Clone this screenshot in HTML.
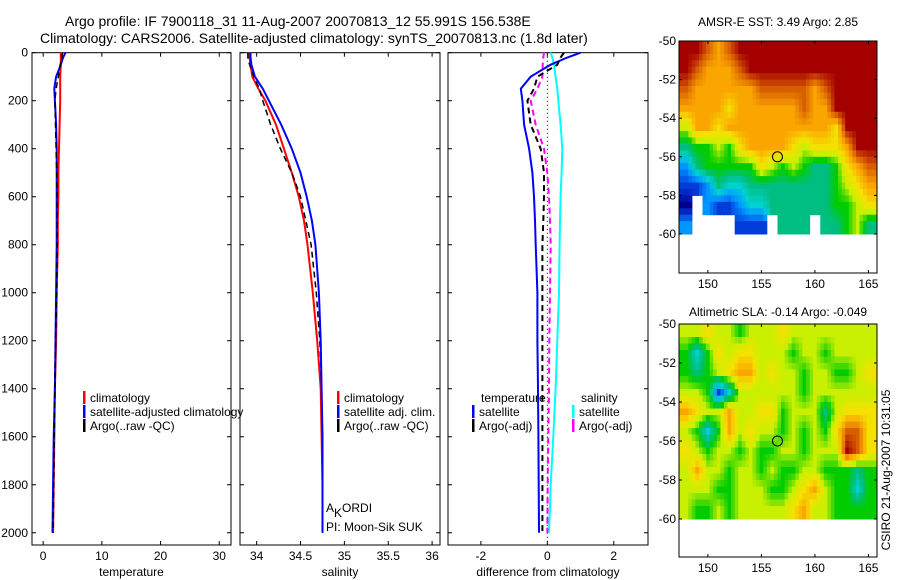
<!DOCTYPE html>
<html><head><meta charset="utf-8"><style>
body{margin:0;background:#fff;}
svg{display:block;font-family:"Liberation Sans",sans-serif;}
text{font-size:12px;fill:#000;}
</style></head><body>
<svg id="c" width="900" height="580" viewBox="0 0 900 580">
<text x="65" y="26" style="font-size:14px">Argo profile: IF 7900118_31 11-Aug-2007 20070813_12 55.991S 156.538E</text>
<text x="40" y="43" style="font-size:14px">Climatology: CARS2006. Satellite-adjusted climatology: synTS_20070813.nc (1.8d later)</text>
</svg>
<script>
const depths=[0,20,50,100,150,200,300,400,500,600,700,800,1000,1200,1400,1600,1800,2000];
const climT=[3.0,3.0,3.0,2.9,2.9,2.9,2.8,2.7,2.6,2.6,2.5,2.5,2.3,2.2,2.0,1.9,1.8,1.7];
const satT=[3.8,3.4,3.0,2.2,1.9,2.0,2.2,2.3,2.3,2.3,2.3,2.3,2.2,2.1,2.0,1.8,1.7,1.6];
const argoT=[3.3,3.2,2.9,2.6,2.2,2.0,2.1,2.2,2.3,2.4,2.4,2.4,2.3,2.1,2.0,1.9,1.8,1.7];
const climS=[33.92,33.92,33.93,33.95,34.02,34.10,34.22,34.31,34.40,34.48,34.54,34.58,34.64,34.69,34.73,34.74,34.75,34.75];
const satS=[33.93,33.93,33.94,33.98,34.07,34.14,34.28,34.40,34.50,34.57,34.63,34.67,34.71,34.73,34.74,34.75,34.75,34.75];
const argoS=[33.90,33.90,33.92,33.97,34.03,34.07,34.16,34.27,34.40,34.50,34.56,34.62,34.68,34.72,34.74,34.75,34.75,34.75];
const satTdiff=[1.0,0.6,0.1,-0.5,-0.8,-0.75,-0.7,-0.55,-0.45,-0.4,-0.37,-0.35,-0.3,-0.3,-0.28,-0.27,-0.26,-0.25];
const argoTdiff=[0.5,0.4,0.3,-0.3,-0.4,-0.6,-0.5,-0.2,-0.1,-0.1,-0.12,-0.15,-0.15,-0.15,-0.15,-0.15,-0.15,-0.15];
const satSdiff=[0.1,0.15,0.2,0.25,0.3,0.33,0.4,0.45,0.43,0.4,0.38,0.37,0.35,0.3,0.25,0.18,0.1,0.05];
const argoSdiff=[-0.1,-0.12,-0.14,-0.15,-0.3,-0.5,-0.35,-0.1,0.0,0.05,0.08,0.1,0.08,0.06,0.05,0.03,0.01,0.0];
const depthTicks=[0,200,400,600,800,1000,1200,1400,1600,1800,2000];
const tTicks=[0,10,20,30];
const sTicks=[34,34.5,35,35.5,36];
const dTicks=[-2,0,2];
const mapLonTicks=[150,155,160,165];
const mapLatTicks=[-50,-52,-54,-56,-58,-60];
// SST map colour levels (0..10), rows lat -50..-59, cols lon 147.5..164.5; -1 = missing
const sstGrid=[
[10,10,9,8,9,10,10,10,10,10,10,10,10,10,10,10,10,10],
[10,9,8,8,8,9,10,10,10,10,10,10,10,10,10,10,10,10],
[9,8,8,8,8,8,8,9,9,9,9,9,8,9,10,10,10,10],
[8,8,8,8,7,8,8,8,8,8,8,9,8,8,10,10,10,10],
[6,8,8,7,8,8,8,8,8,8,8,8,8,8,7,10,10,10],
[4,5,5,6,5,7,8,8,8,8,7,6,7,7,7,8,10,10],
[2,4,5,5,5,5,5,7,6,5,6,5,4,4,5,7,8,9],
[1,1,2,4,3,3,4,4,4,4,4,4,4,4,5,6,7,8],
[0,-1,2,1,1,2,3,3,4,4,4,4,4,4,5,5,6,7],
[2,-1,-1,-1,-1,1,1,1,-1,4,4,4,-1,4,4,5,6,4]];
const slaGrid=[
[6,6,7,6,6,5,6,6,6,7,6,6,6,6,6,6,6,6],
[5,3,5,7,6,7,7,6,6,6,5,6,6,5,6,6,6,6],
[5,4,5,6,7,8,8,6,7,6,6,5,6,6,5,5,6,7],
[6,6,5,1,3,6,6,6,6,6,6,5,6,6,6,6,6,6],
[8,7,6,6,8,6,6,7,7,5,6,6,6,4,6,7,7,7],
[6,5,3,5,8,6,7,6,6,5,6,5,6,5,7,9,9,7],
[7,6,5,6,6,5,6,5,5,6,6,5,6,6,6,10,9,7],
[6,8,6,6,5,6,6,5,6,5,5,6,6,5,5,5,4,5],
[6,6,6,5,5,6,6,6,5,5,6,7,8,6,5,5,3,5],
[6,5,5,6,5,6,6,6,6,6,7,8,6,6,5,5,5,5]];
const argoLon=156.5, argoLat=-56;

const svg=document.getElementById('c');
const NS='http://www.w3.org/2000/svg';
function mk(tag,attrs,parent){const e=document.createElementNS(NS,tag);for(const k in attrs)e.setAttribute(k,attrs[k]);(parent||svg).appendChild(e);return e;}
function txt(x,y,s,anchor,parent){const t=mk('text',{x:x,y:y,'text-anchor':anchor||'start'},parent);t.textContent=s;return t;}

const Y0=52.7,Y1=545,DMAX=2051;
function yD(d){return Y0+(d/DMAX)*(Y1-Y0);}
const panels=[
 {name:'temperature',x0:32,x1:231,v0:-1.9,v1:32,ticks:tTicks,label:'temperature'},
 {name:'salinity',x0:240,x1:440,v0:33.81,v1:36.09,ticks:sTicks,label:'salinity'},
 {name:'difference',x0:448,x1:648,v0:-2.99,v1:3.03,ticks:dTicks,label:'difference from climatology'}];
function xf(p){return v=>p.x0+(v-p.v0)/(p.v1-p.v0)*(p.x1-p.x0);}

panels.forEach((p,i)=>{
 const g=mk('g',{});
 
 
 const r=mk('rect',{x:p.x0,y:Y0,width:p.x1-p.x0,height:Y1-Y0,fill:'none',stroke:'#000','stroke-width':1},g);
 
 
 const X=xf(p);
 p.ticks.forEach(t=>{
  const x=X(t);
  mk('line',{x1:x,y1:Y1,x2:x,y2:Y1-4,stroke:'#000'},g);
  mk('line',{x1:x,y1:Y0,x2:x,y2:Y0+4,stroke:'#000'},g);
  const l=txt(x,Y1+15,String(t),'middle',g);
  
  
 });
 depthTicks.forEach(d=>{
  const y=yD(d);
  mk('line',{x1:p.x0,y1:y,x2:p.x0+4,y2:y,stroke:'#000'},g);
  mk('line',{x1:p.x1,y1:y,x2:p.x1-4,y2:y,stroke:'#000'},g);
  if(i===0){const l=txt(p.x0-4,y+4,String(d),'end',g);
   
   }
 });
 const xl=txt((p.x0+p.x1)/2,Y1+31,p.label,'middle',g);
 
 
});

function line(p,vals,color,dash,w,name){
 const X=xf(p);
 const pts=vals.map((v,k)=>X(v).toFixed(1)+','+yD(depths[k]).toFixed(1)).join(' ');
 const e=mk('polyline',{points:pts,fill:'none',stroke:color,'stroke-width':w||2,'stroke-dasharray':dash||'none'});
 
 
}
line(panels[0],climT,'#f00',null,2,'temperature-climatology-line');
line(panels[0],satT,'#00f',null,2,'temperature-satellite-line');
line(panels[0],argoT,'#000','6,4',1.5,'temperature-argo-line');
line(panels[1],climS,'#f00',null,2,'salinity-climatology-line');
line(panels[1],argoS,'#000','6,4',1.5,'salinity-argo-line');
line(panels[1],satS,'#00f',null,2,'salinity-satellite-line');
{const X=xf(panels[2]);const z=mk('line',{x1:X(0),y1:Y0,x2:X(0),y2:Y1,stroke:'#000','stroke-dasharray':'1,3'});
 }
line(panels[2],satSdiff,'#0ff',null,2,'salinity-satellite-diff-line');
line(panels[2],argoSdiff,'#f0f','6,4',2,'salinity-argo-diff-line');
line(panels[2],satTdiff,'#00f',null,2,'temperature-satellite-diff-line');
line(panels[2],argoTdiff,'#000','6,4',2,'temperature-argo-diff-line');

function legend(x,y,color,label,name){
 const g=mk('g',{});
 
 
 mk('rect',{x:x,y:y-11,width:2.5,height:13,fill:color},g);
 txt(x+7,y,label,'start',g);
}
legend(83,402,'#f00','climatology','legend-climatology');
legend(83,416,'#00f','satellite-adjusted climatology','legend-satellite');
legend(83,430,'#000','Argo(..raw -QC)','legend-argo');
legend(337,402,'#f00','climatology','legend-sal-climatology');
legend(337,416,'#00f','satellite adj. clim.','legend-sal-satellite');
legend(337,430,'#000','Argo(..raw -QC)','legend-sal-argo');
{const t=txt(481,402,'temperature');
 const s=txt(581,402,'salinity');}
legend(472,416,'#00f','satellite','legend-temp-satellite');
legend(472,430,'#000','Argo(-adj)','legend-temp-argo');
legend(572,416,'#0ff','satellite','legend-sal-satellite-diff');
legend(572,430,'#f0f','Argo(-adj)','legend-sal-argo-diff');
{const t=mk('text',{x:326,y:512});t.innerHTML='A<tspan dy="5" style="font-size:12px">K</tspan><tspan dy="-5">ORDI</tspan>';
 
 const t2=txt(326,531,'PI: Moon-Sik SUK');}

const pal=[[0,0,140],[0,60,220],[0,150,255],[0,210,210],[0,190,130],[0,205,0],[200,240,0],[245,225,0],[250,165,0],[215,95,0],[165,0,0]];
function col(l){l=Math.max(0,Math.min(10,l));const a=Math.floor(l),b=Math.min(10,a+1),f=l-a;
 const c=pal[a].map((v,k)=>Math.round(v+(pal[b][k]-v)*f));return 'rgb('+c.join(',')+')';}
function sample(grid,r,c){const R=grid.length,C=grid[0].length;
 r=Math.max(0,Math.min(R-1,r));c=Math.max(0,Math.min(C-1,c));
 const r0=Math.floor(r),c0=Math.floor(c),r1=Math.min(R-1,r0+1),c1=Math.min(C-1,c0+1),fr=r-r0,fc=c-c0;
 let s=0,w=0;[[r0,c0,(1-fr)*(1-fc)],[r0,c1,(1-fr)*fc],[r1,c0,fr*(1-fc)],[r1,c1,fr*fc]].forEach(q=>{const v=grid[q[0]][q[1]];if(v>=0&&q[2]>0){s+=v*q[2];w+=q[2];}});
 return w>0?s/w:-1;}

function map(top,bottom,grid,title,titleY,name){
 const L=679,R=877,lon0=147.3,lon1=165.8,latTop=-50,latPx=(top.lat60-top.y)/10;
 const Xl=lon=>L+(lon-lon0)/(lon1-lon0)*(R-L);
 const Yl=lat=>top.y+(latTop-lat)*latPx;
 const g=mk('g',{});
 
 
 const S=3;
 grid.forEach((row,ri)=>row.forEach((v,ci)=>{
  if(v<0)return;
  for(let a=0;a<S;a++)for(let b=0;b<S;b++){
   const lv=sample(grid,ri+(a+0.5)/S-0.5,ci+(b+0.5)/S-0.5);
   const lonA=147.5+ci+b/S,lat=-50-ri-a/S;
   let x0=Xl(lonA),x1=Xl(lonA+1/S);
   if(ci===0&&b===0)x0=L; if(ci===row.length-1&&b===S-1)x1=R;
   const c=mk('rect',{x:x0.toFixed(1),y:Yl(lat).toFixed(1),width:(x1-x0+0.5).toFixed(1),height:(latPx/S+0.5).toFixed(1),fill:col(lv<0?v:lv)},g);
   
   
  }
 }));
 const b=mk('rect',{x:L,y:top.y,width:R-L,height:bottom-top.y,fill:'none',stroke:'#000'},g);
 
 mapLonTicks.forEach(t=>{const x=Xl(t);mk('line',{x1:x,y1:bottom,x2:x,y2:bottom-3,stroke:'#000'},g);mk('line',{x1:x,y1:top.y,x2:x,y2:top.y+3,stroke:'#000'},g);
  const l=txt(x,bottom+15,String(t),'middle',g);});
 mapLatTicks.forEach(t=>{const y=Yl(t);mk('line',{x1:L,y1:y,x2:L+3,y2:y,stroke:'#000'},g);mk('line',{x1:R,y1:y,x2:R-3,y2:y,stroke:'#000'},g);
  const l=txt(L-3,y+4,String(t),'end',g);});
 const c=mk('circle',{cx:Xl(argoLon),cy:Yl(argoLat),r:5,fill:'none',stroke:'#000'},g);
 
 const t=txt((L+R)/2,titleY,title,'middle',g);
 
}
map({y:41,lat60:234},273,sstGrid,'AMSR-E SST: 3.49 Argo: 2.85',26,'sst-map');
map({y:324,lat60:519},557,slaGrid,'Altimetric SLA: -0.14 Argo: -0.049',316,'sla-map');
{const t=mk('text',{x:0,y:0,transform:'translate(890,470) rotate(-90)','text-anchor':'middle'});
 t.textContent='CSIRO 21-Aug-2007 10:31:05';
 }
</script>
</body></html>
